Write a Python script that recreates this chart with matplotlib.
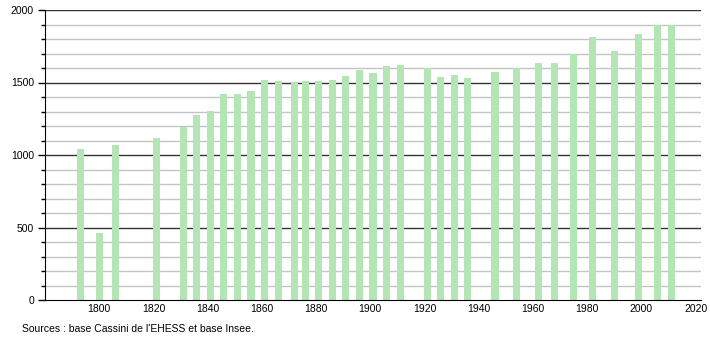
import numpy as np
import matplotlib
matplotlib.use("Agg")
import matplotlib.pyplot as plt
from matplotlib.ticker import MultipleLocator

years = [1793, 1800, 1806, 1821, 1831, 1836, 1841, 1846, 1851, 1856,
         1861, 1866, 1872, 1876, 1881, 1886, 1891, 1896, 1901, 1906,
         1911, 1921, 1926, 1931, 1936, 1946, 1954, 1962, 1968, 1975,
         1982, 1990, 1999, 2006, 2011]
population = [1041, 460, 1069, 1119, 1191, 1276, 1306, 1421, 1421, 1444,
              1517, 1513, 1506, 1513, 1513, 1517, 1547, 1586, 1566, 1614,
              1621, 1598, 1538, 1549, 1531, 1572, 1598, 1637, 1634, 1694,
              1816, 1717, 1837, 1894, 1894]
xticks = list(range(1800, 2021, 20))
source = "Sources : base Cassini de l'EHESS et base Insee."

plt.rcParams['font.family'] = ['Liberation Sans', 'DejaVu Sans']

fig = plt.figure(figsize=(7.1, 3.4), dpi=100)
ax = fig.add_axes([45 / 710, 1 - 300 / 340, 656 / 710, 290 / 340])

# grid: light every 100, dark every 500
for v in range(100, 2000, 100):
    if v % 500:
        ax.axhline(v, color="#c4c4c4", lw=1, zorder=1)
for v in range(500, 2001, 500):
    ax.axhline(v, color="#333333", lw=1, zorder=1)

ax.bar(years, population, width=2.6, color="#b3e5b5", zorder=2)

ax.set_xlim(1780, 2022)
ax.set_ylim(0, 2000)
ax.set_xticks(xticks)
ax.yaxis.set_major_locator(MultipleLocator(500))
ax.yaxis.set_minor_locator(MultipleLocator(100))
ax.tick_params(axis="x", length=0, labelsize=7.5, pad=3)
ax.tick_params(axis="y", which="major", length=5, width=1, labelsize=7.5, pad=3)
ax.tick_params(axis="y", which="minor", length=3, width=1)

for side in ("top", "right"):
    ax.spines[side].set_visible(False)
ax.spines["left"].set_color("black")
ax.spines["bottom"].set_color("black")

fig.text(22 / 710, 1 - 329 / 340, source, fontsize=7.5, va="center", ha="left")

fig.savefig("out.png", dpi=100)
